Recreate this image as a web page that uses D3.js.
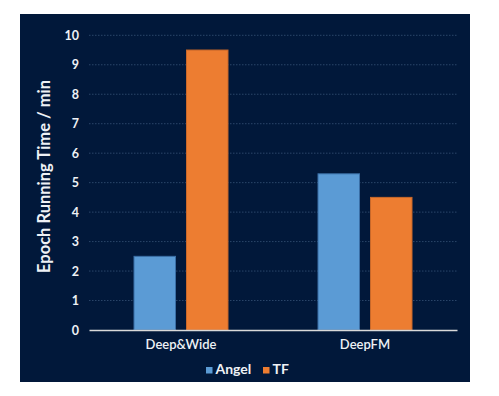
<!DOCTYPE html>
<html><head><meta charset="utf-8">
<script src="https://cdn.jsdelivr.net/npm/d3@7"></script>
<style>body{margin:0;background:#fff}svg{display:block}</style>
</head><body>
<script>
const categories = ["Deep&Wide", "DeepFM"];
const seriesNames = ["Angel", "TF"];
const angelValues = [2.5, 5.3];
const tfValues = [9.5, 4.5];
const yTicks = [0,1,2,3,4,5,6,7,8,9,10];
const colors = {Angel: "#5b9bd5", TF: "#ed7d31"};

(function(){
const W = 499, H = 396;
const svg = d3.select("body").append("svg").attr("width", W).attr("height", H);
svg.append("rect").attr("x", 20).attr("y", 14).attr("width", 450).attr("height", 368).attr("fill", "#01183a");

const pLeft = 89, pRight = 457, pTop = 35.3, pBottom = 330;
const x0 = d3.scaleBand().domain(categories).range([pLeft, pRight]).padding(0);
const x1 = d3.scaleBand().domain(seriesNames).range([0, x0.bandwidth()]).paddingInner(0.2095).paddingOuter(0.857);
const y = d3.scaleLinear().domain([0, 10]).range([pBottom, pTop]);

// gridlines
svg.append("g").selectAll("line").data(yTicks.filter(d => d > 0)).enter().append("line")
  .attr("x1", pLeft).attr("x2", pRight)
  .attr("y1", d => y(d)).attr("y2", d => y(d))
  .attr("stroke", "#2b4669").attr("stroke-width", 1).attr("stroke-dasharray", "1.5,1.5");

// y axis labels
const yAxis = d3.axisLeft(y).tickValues(yTicks).tickSize(0).tickPadding(10).tickFormat(d3.format("d"));
const ya = svg.append("g").attr("transform", `translate(${pLeft},0)`).call(yAxis);
ya.select(".domain").remove();
ya.selectAll("text").attr("fill", "#eef1f5").style("font-family", "Lato, sans-serif").style("font-size", "12.5px").style("font-weight", "700");

// bars
const data = categories.map((c, i) => ({cat: c, vals: [{s: "Angel", v: angelValues[i]}, {s: "TF", v: tfValues[i]}]}));
const grp = svg.selectAll("g.cat").data(data).enter().append("g").attr("class", "cat").attr("transform", d => `translate(${x0(d.cat)},0)`);
grp.selectAll("rect").data(d => d.vals).enter().append("rect")
  .attr("x", d => x1(d.s)).attr("width", x1.bandwidth())
  .attr("y", d => y(d.v)).attr("height", d => y(0) - y(d.v))
  .attr("fill", d => colors[d.s])
  .attr("stroke", d => d.s === "Angel" ? "#3a6ea5" : "#c8682a").attr("stroke-width", 1);

// x axis
const xAxis = d3.axisBottom(x0).tickSize(0).tickPadding(10);
const xa = svg.append("g").attr("transform", `translate(0,${pBottom})`).call(xAxis);
xa.select(".domain").attr("stroke", "#d9d9d9").attr("stroke-width", 1.6);
xa.selectAll("text").attr("fill", "#eef1f5").style("font-family", "Lato, sans-serif").style("font-size", "13px").style("font-weight", "600");

// y title
svg.append("text").attr("transform", `translate(50,176.5) rotate(-90)`)
  .attr("text-anchor", "middle").attr("fill", "#eef1f5")
  .style("font-family", "Lato, sans-serif").style("font-size", "16.5px").style("font-weight", "700")
  .text("Epoch Running Time / min");

// legend
const legX = [206, 263];
const leg = svg.selectAll("g.leg").data(seriesNames).enter().append("g").attr("class", "leg").attr("transform", (d, i) => `translate(${legX[i]},367)`);
leg.append("rect").attr("width", 6.5).attr("height", 6.5).attr("fill", d => colors[d]);
leg.append("text").attr("x", 9.5).attr("y", 7.3).attr("fill", "#eef1f5")
  .style("font-family", "Lato, sans-serif").style("font-size", "14px").style("font-weight", "700").text(d => d);
})();
</script>
</body></html>
